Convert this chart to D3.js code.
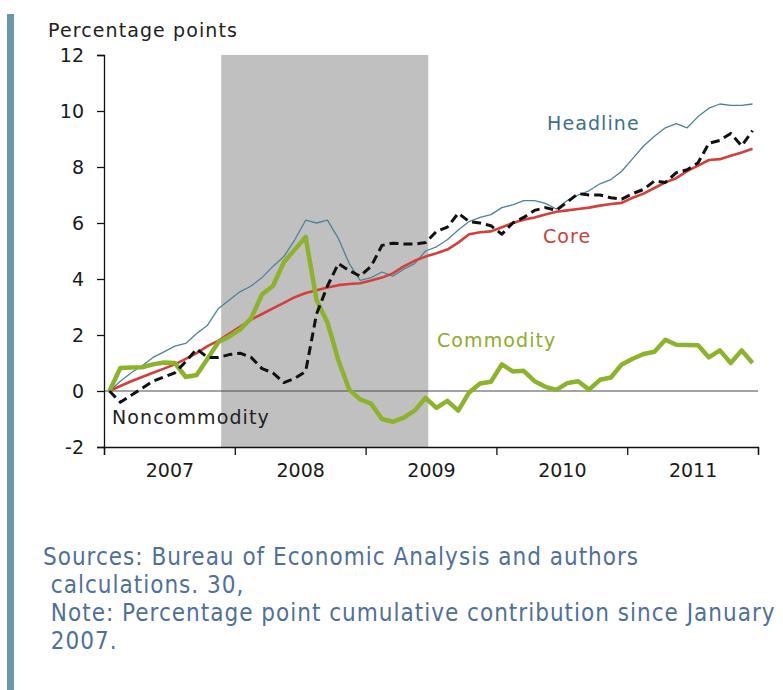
<!DOCTYPE html>
<html>
<head>
<meta charset="utf-8">
<script src="https://cdn.jsdelivr.net/npm/d3@7"></script>
<style>
  body { margin: 0; background: #fff; }
  svg { display: block; }
</style>
</head>
<body>
<svg width="783" height="690"></svg>
<script>
// monthly data, Jan 2007 .. Dec 2011 (index 0..59), cumulative pp contribution
const years = ["2007", "2008", "2009", "2010", "2011"]
const yTicks = [-2, 0, 2, 4, 6, 8, 10, 12]
const recession = [10.75, 29.75] // in months since Jan 2007

const headline = [0, 0.35, 0.65, 0.9, 1.2, 1.4, 1.6, 1.7, 2.05, 2.35, 2.95, 3.25,
  3.55, 3.75, 4.05, 4.45, 4.8, 5.4, 6.1, 6.0, 6.1, 5.45, 4.55, 3.95,
  4.05, 4.25, 4.1, 4.35, 4.55, 5.0, 5.15, 5.4, 5.75, 6.05, 6.2, 6.3,
  6.55, 6.65, 6.8, 6.8, 6.7, 6.5, 6.8, 7.0, 7.15, 7.4, 7.55, 7.85,
  8.3, 8.75, 9.1, 9.4, 9.55, 9.4, 9.8, 10.1, 10.25, 10.2, 10.2, 10.25]

const core = [0, 0.18, 0.35, 0.5, 0.65, 0.8, 0.95, 1.15, 1.35, 1.6, 1.8, 2.05,
  2.3, 2.55, 2.75, 2.95, 3.15, 3.35, 3.5, 3.6, 3.7, 3.78, 3.82, 3.85,
  3.95, 4.05, 4.2, 4.45, 4.65, 4.8, 4.92, 5.05, 5.3, 5.6, 5.67, 5.7,
  5.85, 6.0, 6.12, 6.2, 6.3, 6.4, 6.45, 6.5, 6.55, 6.62, 6.68, 6.72,
  6.9, 7.05, 7.25, 7.45, 7.6, 7.85, 8.05, 8.25, 8.28, 8.4, 8.52, 8.65]

const noncommodity = [0, -0.4, -0.15, 0.1, 0.35, 0.5, 0.65, 1.05, 1.5, 1.2, 1.2, 1.3,
  1.35, 1.2, 0.8, 0.65, 0.3, 0.45, 0.7, 2.75, 3.75, 4.55, 4.3, 4.1,
  4.45, 5.2, 5.28, 5.25, 5.25, 5.3, 5.7, 5.85, 6.35, 6.05, 6.0, 5.9,
  5.6, 6.0, 6.2, 6.45, 6.55, 6.45, 6.75, 7.05, 7.0, 7.0, 6.9, 6.85,
  7.05, 7.2, 7.5, 7.45, 7.8, 7.9, 8.15, 8.85, 8.95, 9.2, 8.75, 9.3]

const commodity = [0, 0.82, 0.84, 0.85, 0.95, 1.02, 1.0, 0.5, 0.57, 1.15, 1.75, 1.95,
  2.2, 2.6, 3.45, 3.75, 4.6, 5.05, 5.5, 3.25, 2.45, 1.1, 0.05, -0.3,
  -0.45, -1.0, -1.1, -0.95, -0.7, -0.25, -0.6, -0.35, -0.7, -0.05, 0.27, 0.33,
  0.95, 0.7, 0.72, 0.35, 0.15, 0.04, 0.28, 0.35, 0.05, 0.4, 0.48, 0.95,
  1.15, 1.32, 1.4, 1.83, 1.65, 1.64, 1.63, 1.2, 1.45, 1.0, 1.45, 1.0]

const svg = d3.select("svg")

const x = d3.scaleLinear().domain([0, 60]).range([104, 758])
const y = d3.scaleLinear().domain([-2, 12]).range([447, 55])

const labelFont = "'DejaVu Sans', Verdana, sans-serif"

// side bar
svg.append("rect")
    .attr("x", 7).attr("y", 14)
    .attr("width", 7).attr("height", 676)
    .style("fill", "#6b98a8")

// recession shading
svg.append("rect")
    .attr("x", x(recession[0]))
    .attr("y", y(12))
    .attr("width", x(recession[1]) - x(recession[0]))
    .attr("height", y(-2) - y(12))
    .style("fill", "#c0c0c0")

// zero line
svg.append("line")
    .attr("x1", x(0)).attr("x2", x(60))
    .attr("y1", y(0)).attr("y2", y(0))
    .style("stroke", "#4a4a4a")
    .style("stroke-width", 1.2)

// axes
svg.append("g")
    .attr("transform", `translate(${x(0)},0)`)
    .call(d3.axisLeft(y).tickValues(yTicks).tickSize(7).tickPadding(13)
        .tickFormat(d => String(d)))

svg.append("g")
    .attr("transform", `translate(0,${y(-2)})`)
    .call(d3.axisBottom(x).tickValues(d3.range(0, 61, 12)).tickSize(8).tickFormat(""))

svg.append("g")
    .attr("transform", `translate(0,${y(-2)})`)
    .call(d3.axisBottom(x).tickValues(years.map((d, i) => i * 12 + 6))
        .tickSize(0).tickPadding(17).tickFormat((d, i) => years[i]))
    .call(g => g.select(".domain").remove())

svg.selectAll(".domain, .tick line")
    .style("stroke", "#111")
    .style("stroke-width", 1.3)

svg.selectAll(".tick text")
    .style("font-family", labelFont)
    .style("font-size", "19px")
    .style("fill", "#1a1a1a")

// series
const line = d3.line()
    .x((d, i) => x(i + 0.5))
    .y(d => y(d))

const series = [
    { name: "headline", values: headline, color: "#4d8298", width: 1.3, dash: null },
    { name: "core", values: core, color: "#d2403c", width: 2.6, dash: null },
    { name: "commodity", values: commodity, color: "#8db22c", width: 4.5, dash: null },
    { name: "noncommodity", values: noncommodity, color: "#111", width: 3, dash: "9,5" }
]

svg.selectAll("path.series")
    .data(series)
    .join("path")
    .attr("class", "series")
    .attr("d", d => line(d.values))
    .style("fill", "none")
    .style("stroke", d => d.color)
    .style("stroke-width", d => d.width)
    .style("stroke-dasharray", d => d.dash)
    .style("stroke-linejoin", "round")

// labels
const labels = [
    { text: "Percentage points", x: 48, y: 37, color: "#222" },
    { text: "Headline", x: 547, y: 130, color: "#3d7088" },
    { text: "Core", x: 543, y: 243, color: "#c9403d" },
    { text: "Commodity", x: 437, y: 347, color: "#8fab2c" },
    { text: "Noncommodity", x: 112, y: 424, color: "#222" }
]

svg.selectAll("text.label")
    .data(labels)
    .join("text")
    .attr("class", "label")
    .attr("x", d => d.x)
    .attr("y", d => d.y)
    .text(d => d.text)
    .style("font-family", labelFont)
    .style("font-size", "19px")
    .style("letter-spacing", "1.1px")
    .style("fill", d => d.color)

// source note
const notes = [
    "Sources: Bureau of Economic Analysis and authors",
    " calculations. 30,",
    " Note: Percentage point cumulative contribution since January",
    " 2007."
]

svg.selectAll("text.note")
    .data(notes)
    .join("text")
    .attr("class", "note")
    .attr("x", 43)
    .attr("y", (d, i) => 565 + i * 28)
    .attr("xml:space", "preserve")
    .style("white-space", "pre")
    .text(d => d)
    .style("font-family", "'DejaVu Sans Condensed', sans-serif")
    .style("font-size", "24px")
    .style("letter-spacing", "1.0px")
    .style("fill", "#50709a")
</script>
</body>
</html>
